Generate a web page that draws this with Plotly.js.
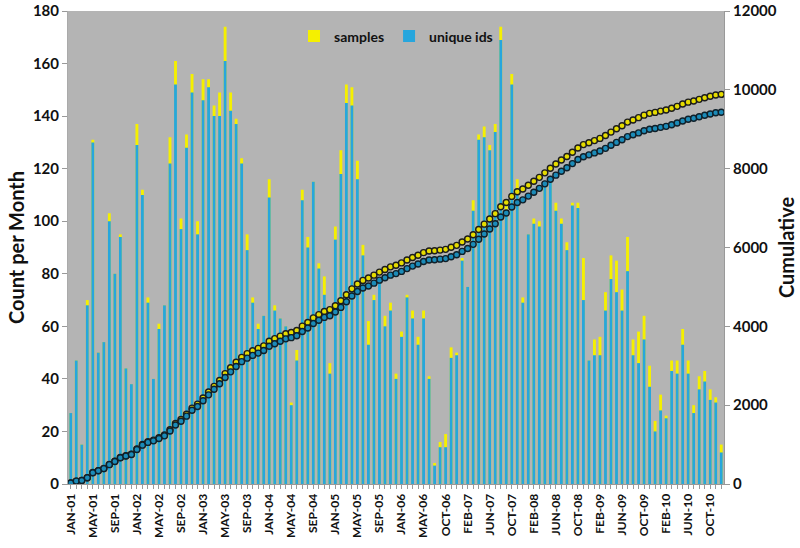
<!DOCTYPE html>
<html><head><meta charset="utf-8">
<script src="https://cdn.plot.ly/plotly-3.0.1.min.js"></script>
<style>html,body{margin:0;padding:0;background:#fff}#chart{width:800px;height:548px}</style>
</head><body><div id="chart"></div>
<script>
const months = [
'JAN-01','FEB-01','MAR-01','APR-01','MAY-01','JUN-01','JUL-01','AUG-01','SEP-01','OCT-01','NOV-01','DEC-01',
'JAN-02','FEB-02','MAR-02','APR-02','MAY-02','JUN-02','JUL-02','AUG-02','SEP-02','OCT-02','NOV-02','DEC-02',
'JAN-03','FEB-03','MAR-03','APR-03','MAY-03','JUN-03','JUL-03','AUG-03','SEP-03','OCT-03','NOV-03','DEC-03',
'JAN-04','FEB-04','MAR-04','APR-04','MAY-04','JUN-04','JUL-04','AUG-04','SEP-04','OCT-04','NOV-04','DEC-04',
'JAN-05','FEB-05','MAR-05','APR-05','MAY-05','JUN-05','JUL-05','AUG-05','SEP-05','OCT-05','NOV-05','DEC-05',
'JAN-06','FEB-06','MAR-06','APR-06','MAY-06','JUN-06','JUL-06','SEP-06','OCT-06','NOV-06','DEC-06',
'JAN-07','FEB-07','MAR-07','APR-07','MAY-07','JUN-07','JUL-07','AUG-07','SEP-07','OCT-07','NOV-07','DEC-07',
'JAN-08','FEB-08','MAR-08','APR-08','MAY-08','JUN-08','JUL-08','AUG-08','SEP-08','OCT-08','NOV-08','DEC-08',
'JAN-09','FEB-09','MAR-09','APR-09','MAY-09','JUN-09','JUL-09','AUG-09','SEP-09','OCT-09','NOV-09','DEC-09',
'JAN-10','FEB-10','MAR-10','APR-10','MAY-10','JUN-10','JUL-10','AUG-10','SEP-10','OCT-10','NOV-10','DEC-10'
];

const tickLabels = ['JAN-01','MAY-01','SEP-01','JAN-02','MAY-02','SEP-02','JAN-03','MAY-03','SEP-03','JAN-04','MAY-04','SEP-04',
'JAN-05','MAY-05','SEP-05','JAN-06','MAY-06','OCT-06','FEB-07','JUN-07','OCT-07','FEB-08','JUN-08','OCT-08',
'FEB-09','JUN-09','OCT-09','FEB-10','JUN-10','OCT-10'];

const uniqueIds = [
27,47,15,68,130,50,54,100,80,94,44,38,
129,110,69,40,59,68,122,152,97,128,149,95,
146,151,140,140,161,142,137,122,89,69,59,64,
109,66,63,60,30,47,108,90,115,82,72,42,
93,118,145,144,116,87,53,70,77,60,66,40,
56,71,63,53,63,40,7,14,14,48,49,
85,75,104,131,132,127,134,169,103,152,112,69,
95,99,98,114,116,104,99,89,106,105,70,47,
49,49,66,78,73,66,81,49,46,55,37,20,
28,25,43,42,53,42,27,36,39,32,31,12
];

const samples = [
27,47,15,70,131,50,54,103,80,95,44,38,
137,112,71,40,61,68,132,161,101,133,156,100,
154,154,144,149,174,149,139,124,95,71,61,64,
116,68,63,60,31,51,112,94,115,84,79,46,
98,127,152,151,123,91,62,72,77,64,69,42,
58,72,66,56,66,41,8,16,19,52,50,
86,75,108,133,136,129,137,174,108,156,116,71,
95,101,100,114,116,107,101,92,107,107,86,47,
55,56,73,87,85,74,94,55,58,64,45,24,
34,26,47,47,59,47,30,41,43,36,33,15
];

const leftTicks = [0,20,40,60,80,100,120,140,160,180];
const rightTicks = [0,2000,4000,6000,8000,10000,12000];

// cumulative series (right axis) built from the monthly counts
function running(arr){const out=[];let s=0;for(const v of arr){s+=v;out.push(s);}return out;}
const cumSamples = running(samples);
const cumUnique = running(uniqueIds);

const FONT = 'Lato, "Open Sans", "DejaVu Sans", sans-serif';
const tickText = months.map(m => tickLabels.includes(m) ? m : '');

const traces = [
  {type:'bar', name:'samples', x:months, y:samples, marker:{color:'#f5f000'}, yaxis:'y'},
  {type:'bar', name:'unique ids', x:months, y:uniqueIds, marker:{color:'#27a6dd'}, yaxis:'y'},
  {type:'scatter', mode:'lines+markers', name:'cumulative samples', x:months, y:cumSamples, yaxis:'y2', showlegend:false,
   line:{color:'#2b2b10', width:1}, marker:{symbol:'circle', size:6, color:'#e6dc00', line:{color:'#1c1c1c', width:1.4}}},
  {type:'scatter', mode:'lines+markers', name:'cumulative unique ids', x:months, y:cumUnique, yaxis:'y2', showlegend:false,
   line:{color:'#0c2c3a', width:1}, marker:{symbol:'circle', size:6, color:'#1b8bb8', line:{color:'#10202a', width:1.4}}}
];

const layout = {
  width:800, height:548,
  margin:{l:68, r:76, t:11, b:64, pad:0},
  paper_bgcolor:'#ffffff', plot_bgcolor:'#b4b4b4',
  barmode:'overlay', bargap:0.48,
  font:{family:FONT, size:14, color:'#111', weight:'bold'},
  showlegend:true,
  legend:{orientation:'h', x:0.5, xanchor:'center', y:0.98, yanchor:'top', bgcolor:'rgba(0,0,0,0)',
          font:{family:FONT, size:14, color:'#111', weight:'bold'}, itemwidth:30, traceorder:'normal'},
  xaxis:{type:'category', categoryorder:'array', categoryarray:months, range:[-0.5, months.length-0.5], autorange:false,
         tickmode:'array', tickvals:months, ticktext:tickText, tickangle:-90,
         ticks:'outside', ticklen:4, tickcolor:'#999', tickwidth:1,
         showline:true, linecolor:'#999', linewidth:1, showgrid:false, zeroline:false,
         tickfont:{family:FONT, size:12, color:'#111', weight:'bold'}, automargin:false},
  yaxis:{range:[0,180], autorange:false, tickmode:'array', tickvals:leftTicks, ticktext:leftTicks.map(String),
         ticks:'outside', ticklen:5, tickcolor:'#999', ticklabeloverflow:'allow',
         showline:true, linecolor:'#aaa', showgrid:false, zeroline:false,
         tickfont:{family:FONT, size:15, color:'#111', weight:'bold'},
         title:{text:'Count per Month', font:{family:FONT, size:20, color:'#111', weight:'bold'}, standoff:2}, automargin:false},
  yaxis2:{range:[0,12000], autorange:false, overlaying:'y', side:'right', tickmode:'array', tickvals:rightTicks, ticktext:rightTicks.map(String),
          ticks:'outside', ticklen:5, tickcolor:'#999', ticklabeloverflow:'allow',
          showline:true, linecolor:'#999', showgrid:false, zeroline:false,
          tickfont:{family:FONT, size:15, color:'#111', weight:'bold'},
          title:{text:'Cumulative', font:{family:FONT, size:20, color:'#111', weight:'bold'}, standoff:4}, automargin:false}
};

Plotly.newPlot('chart', traces, layout, {displayModeBar:false, staticPlot:true});
</script>
</body></html>
